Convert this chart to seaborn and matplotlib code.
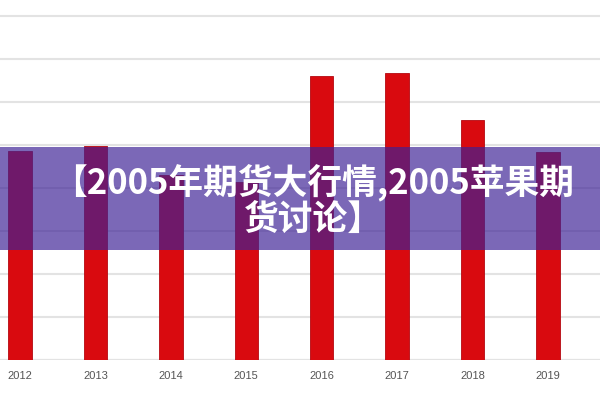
import numpy as np
import matplotlib.pyplot as plt
import pandas as pd
import seaborn as sns
from matplotlib.patches import Rectangle

# values (no y labels shown, grid step = 100)
years = ['2012', '2013', '2014', '2015', '2016', '2017', '2018', '2019', '2020']
values = [486, 498, 430, 414, 660, 667, 558, 484, np.nan]
title = '【2005年期货大行情,2005苹果期\n货讨论】'

df = pd.DataFrame({'year': years, 'value': values})

sns.set_style('white')
plt.rcParams['font.family'] = ['Noto Sans CJK SC', 'DejaVu Sans']

fig = plt.figure(figsize=(6, 4), dpi=100)
ax = fig.add_axes([0, 0.1, 1, 0.9])

sns.barplot(data=df, x='year', y='value', order=years, color='#d90a0f',
            width=0.31, edgecolor='#b50810', linewidth=0.6, saturation=1, ax=ax)

ax.set_xlim(-0.265, 7.69)
ax.set_ylim(0, 837)
ax.set_yticks(np.arange(0, 801, 100))
ax.yaxis.grid(True, color='#e3e3e3', linewidth=1.5)
ax.set_axisbelow(True)
ax.axhline(0, color='#d6d6d6', linewidth=1.5, zorder=0.5)
for s in ax.spines.values():
    s.set_visible(False)
ax.set_xlabel('')
ax.set_ylabel('')
ax.set_yticklabels([])
ax.tick_params(axis='y', length=0)
ax.tick_params(axis='x', length=0, pad=8, labelsize=8, labelcolor='#555555')
for lbl in ax.get_xticklabels():
    lbl.set_fontfamily(['Liberation Sans', 'DejaVu Sans'])

# purple banner across the middle
fig.add_artist(Rectangle((0, 1 - 250 / 400), 1, 103 / 400, transform=fig.transFigure,
                         facecolor='#3d2196', alpha=0.68, edgecolor='none', zorder=5))
fig.text(0.522, 1 - 200 / 400, title, ha='center', va='center', color='white',
         fontsize=25, fontweight='heavy', linespacing=1.05, zorder=6,
         family=['Noto Sans CJK SC', 'DejaVu Sans'])

fig.savefig('out.png', dpi=100)
